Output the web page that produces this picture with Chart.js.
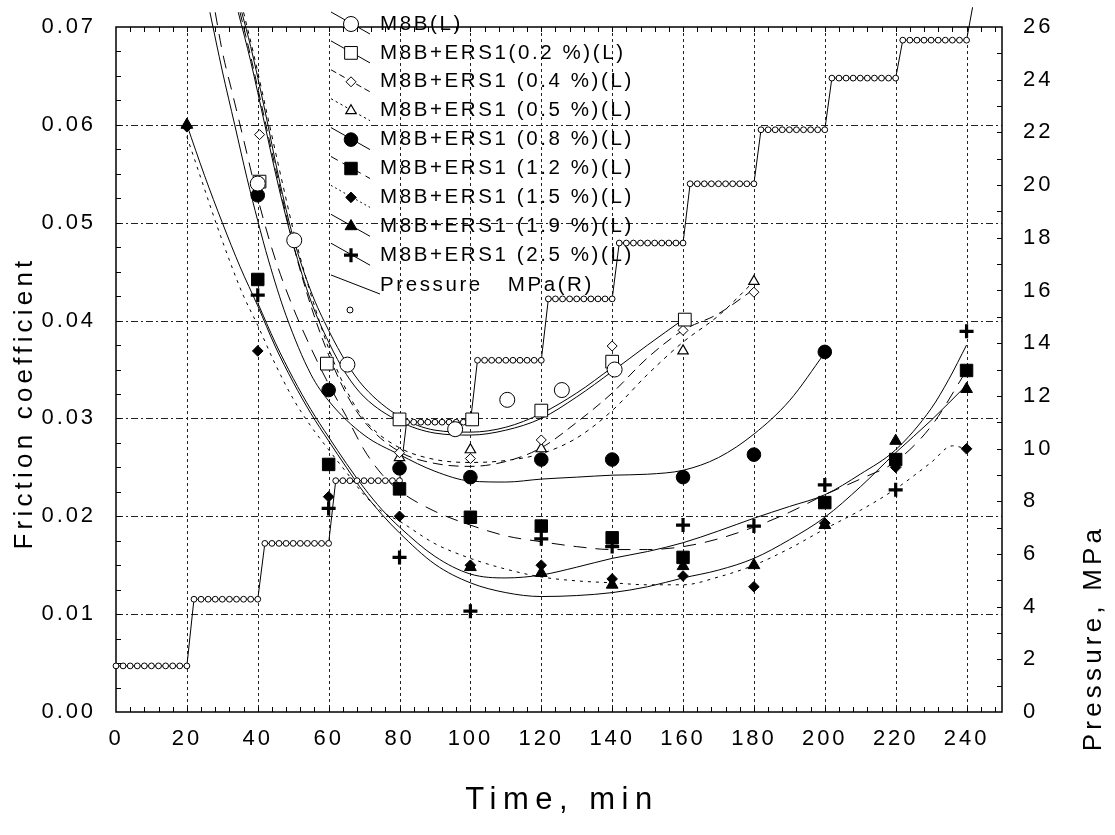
<!DOCTYPE html>
<html>
<head>
<meta charset="utf-8">
<script src="https://cdn.jsdelivr.net/npm/chart.js@4.4.1/dist/chart.umd.min.js"></script>
<style>
  html, body { margin: 0; padding: 0; background: #fff; }
  #wrap { width: 1115px; height: 835px; position: relative; }
</style>
</head>
<body>
<div id="wrap"><canvas id="chart"></canvas></div>
<script>
// measured points [time, friction]
const m8bMarks  = [[40,0.054],[50.3,0.0482],[65.3,0.0355],[95.7,0.0289],[110.4,0.0319],[125.8,0.0329],[140.7,0.035]];
const ers02Marks = [[40.5,0.0542],[59.5,0.0356],[80,0.0299],[100.5,0.0299],[120,0.0308],[140,0.0358],[160.5,0.0401]];
const ers04Marks = [[40.5,0.059],[80,0.0265],[100,0.0259],[120,0.0278],[140,0.0374],[160,0.039],[180,0.0429]];
const ers05Marks = [[80,0.026],[100,0.0268],[120,0.0269],[140,0.0358],[160,0.0369],[180,0.044]];
const ers08Marks = [[40,0.0528],[60,0.0329],[80,0.0249],[100,0.024],[120,0.0258],[140,0.0258],[160,0.024],[180,0.0263],[200,0.0368]];
const ers12Marks = [[40,0.0442],[60,0.0253],[80,0.0228],[100,0.0199],[120,0.019],[140,0.0178],[160,0.0158],[200,0.0214],[220,0.0258],[240,0.0349]];
const ers15Marks = [[20,0.0598],[40,0.0369],[60,0.022],[80,0.020],[100,0.015],[120,0.015],[140,0.0136],[160,0.0139],[180,0.0128],[200,0.0193],[220,0.025],[240,0.0269]];
const ers19Marks = [[20,0.060],[100,0.0148],[120,0.0142],[140,0.013],[160,0.0149],[180,0.015],[200,0.0191],[220,0.0277],[240,0.033]];
const ers25Marks = [[40,0.0426],[60,0.0208],[80,0.0158],[100,0.0103],[120,0.0177],[140,0.0169],[160,0.0191],[180,0.019],[200,0.0232],[220,0.0227],[240,0.0389]];

// fitted curves
const m8bFit  = [[35.5,0.0715],[38,0.068],[42,0.0615],[46,0.0545],[50,0.0485],[55,0.043],[60,0.039],[65,0.0357],[70,0.0332],[80,0.0302],[90,0.0288],[100,0.0286],[110,0.0291],[120,0.0305],[130,0.0326],[140,0.0352]];
const ers02Fit = [[34.5,0.0715],[38,0.0665],[42,0.060],[46,0.0535],[50,0.0478],[55,0.042],[60,0.0378],[65,0.0345],[70,0.0322],[80,0.0297],[90,0.0285],[100,0.0283],[110,0.0288],[120,0.030],[130,0.0322],[140,0.0348],[150,0.0375],[160,0.0401]];
const ers04Fit = [[35,0.0715],[38,0.067],[42,0.0605],[46,0.054],[50,0.0478],[55,0.0415],[60,0.0365],[65,0.0325],[70,0.0297],[80,0.0266],[90,0.0254],[100,0.0251],[110,0.0256],[120,0.027],[130,0.0296],[140,0.0326],[150,0.0362],[160,0.039],[170,0.0407],[180,0.0432]];
const ers05Fit = [[36,0.0715],[39,0.067],[43,0.0605],[47,0.054],[51,0.0478],[56,0.0415],[61,0.0362],[66,0.0322],[71,0.0295],[80,0.027],[90,0.0258],[100,0.0255],[110,0.0257],[120,0.0264],[130,0.028],[140,0.0308],[150,0.0345],[160,0.0378],[170,0.0405],[180,0.044]];
const ers08Fit = [[26.5,0.0715],[30,0.0655],[33.5,0.060],[37,0.0545],[40,0.0502],[43,0.0462],[48,0.0405],[55,0.0345],[60,0.0318],[70,0.0283],[80,0.0263],[90,0.0246],[100,0.0236],[110,0.0235],[120,0.0238],[130,0.024],[140,0.0242],[150,0.0243],[160,0.0247],[170,0.026],[180,0.0284],[190,0.0318],[200,0.0367]];
const ers12Fit = [[28,0.0715],[30,0.0675],[33,0.063],[36,0.0585],[40,0.0525],[45,0.0462],[50,0.0413],[55,0.0372],[60,0.0335],[65,0.0302],[70,0.0268],[75,0.0243],[80,0.0226],[90,0.0205],[100,0.0191],[110,0.018],[120,0.0174],[130,0.0169],[140,0.0166],[150,0.0166],[160,0.0169],[170,0.0177],[180,0.0189],[190,0.0204],[200,0.0222],[210,0.0238],[220,0.0256],[230,0.0292],[240,0.0349]];
const ers15Fit = [[20,0.0588],[24,0.0545],[28,0.0502],[33,0.0452],[36,0.0425],[40,0.0395],[45,0.0355],[50,0.032],[55,0.0292],[60,0.0268],[65,0.0245],[70,0.0222],[75,0.0205],[80,0.0195],[90,0.0172],[100,0.0157],[110,0.0146],[120,0.0138],[130,0.0134],[140,0.0132],[150,0.013],[160,0.013],[170,0.0138],[180,0.015],[190,0.0167],[200,0.0187],[210,0.0206],[220,0.0228],[230,0.0255],[236,0.0272],[240,0.0269]];
const ers19Fit = [[20,0.060],[25,0.0548],[30,0.050],[35,0.0455],[40,0.0415],[45,0.0373],[50,0.0337],[55,0.0305],[60,0.0277],[65,0.025],[70,0.0224],[75,0.0202],[80,0.0183],[90,0.0151],[100,0.0132],[110,0.0122],[120,0.0118],[130,0.0119],[140,0.0122],[150,0.0128],[160,0.0137],[170,0.0145],[180,0.0157],[190,0.0176],[200,0.0199],[210,0.023],[220,0.0265],[230,0.0298],[240,0.0334]];
const ers25Fit = [[40,0.0418],[45,0.0377],[50,0.0341],[55,0.0309],[60,0.0281],[65,0.0254],[70,0.0229],[75,0.0207],[80,0.0189],[90,0.0159],[100,0.0141],[110,0.0137],[120,0.014],[130,0.0148],[140,0.0157],[150,0.0164],[160,0.0173],[170,0.0185],[180,0.0198],[190,0.021],[200,0.0222],[210,0.0243],[220,0.0268],[230,0.031],[235,0.034],[240,0.0375]];

// pressure steps (right axis)
const pressureTime = [
  0,2,4,6,8,10,12,14,16,18,20,
  22,24,26,28,30,32,34,36,38,40,
  42,44,46,48,50,52,54,56,58,60,
  62,64,66,68,70,72,74,76,78,80,
  82,84,86,88,90,92,94,96,98,100,
  102,104,106,108,110,112,114,116,118,120,
  122,124,126,128,130,132,134,136,138,140,
  142,144,146,148,150,152,154,156,158,160,
  162,164,166,168,170,172,174,176,178,180,
  182,184,186,188,190,192,194,196,198,200,
  202,204,206,208,210,212,214,216,218,220,
  222,224,226,228,230,232,234,236,238,240,
  241.7
];
const pressureMPa = [
  1.75,1.75,1.75,1.75,1.75,1.75,1.75,1.75,1.75,1.75,1.75,
  4.28,4.28,4.28,4.28,4.28,4.28,4.28,4.28,4.28,4.28,
  6.4,6.4,6.4,6.4,6.4,6.4,6.4,6.4,6.4,6.4,
  8.78,8.78,8.78,8.78,8.78,8.78,8.78,8.78,8.78,8.78,
  11.0,11.0,11.0,11.0,11.0,11.0,11.0,11.0,11.0,11.0,
  13.35,13.35,13.35,13.35,13.35,13.35,13.35,13.35,13.35,13.35,
  15.68,15.68,15.68,15.68,15.68,15.68,15.68,15.68,15.68,15.68,
  17.8,17.8,17.8,17.8,17.8,17.8,17.8,17.8,17.8,17.8,
  20.05,20.05,20.05,20.05,20.05,20.05,20.05,20.05,20.05,20.05,
  22.1,22.1,22.1,22.1,22.1,22.1,22.1,22.1,22.1,22.1,
  24.06,24.06,24.06,24.06,24.06,24.06,24.06,24.06,24.06,24.06,
  25.5,25.5,25.5,25.5,25.5,25.5,25.5,25.5,25.5,25.5,
  26.75
];

const FONT = '"Liberation Sans", Arial, sans-serif';

const SERIES = [
    { label: 'M8B(L)',              marks: m8bMarks,  fit: m8bFit,  style: 'circle',  r: 7.5, fill: '#fff', bw: 1,   dash: [] },
    { label: 'M8B+ERS1(0.2 %)(L)',  marks: ers02Marks, fit: ers02Fit, style: 'rect',    r: 9,   fill: '#fff', bw: 1,   dash: [] },
    { label: 'M8B+ERS1 (0.4 %)(L)', marks: ers04Marks, fit: ers04Fit, style: 'rectRot', r: 5,   fill: '#fff', bw: 1,   dash: [10, 6] },
    { label: 'M8B+ERS1 (0.5 %)(L)', marks: ers05Marks, fit: ers05Fit, style: 'triangle', r: 6,  fill: '#fff', bw: 1.2, dash: [4, 5] },
    { label: 'M8B+ERS1 (0.8 %)(L)', marks: ers08Marks, fit: ers08Fit, style: 'circle',  r: 6.8, fill: '#000', bw: 1,   dash: [] },
    { label: 'M8B+ERS1 (1.2 %)(L)', marks: ers12Marks, fit: ers12Fit, style: 'rect',    r: 8.8, fill: '#000', bw: 1,   dash: [13, 9] },
    { label: 'M8B+ERS1 (1.5 %)(L)', marks: ers15Marks, fit: ers15Fit, style: 'rectRot', r: 5.3, fill: '#000', bw: 1,   dash: [3, 5] },
    { label: 'M8B+ERS1 (1.9 %)(L)', marks: ers19Marks, fit: ers19Fit, style: 'triangle', r: 6.8, fill: '#000', bw: 1,   dash: [] },
    { label: 'M8B+ERS1 (2.5 %)(L)', marks: ers25Marks, fit: ers25Fit, style: 'cross',   r: 7,   fill: '#000', bw: 3.2, dash: [] },
];

const toXY = arr => arr.map(p => ({ x: p[0], y: p[1] }));

const datasets = [];
SERIES.forEach(s => {
    datasets.push({
        label: s.label,
        data: toXY(s.marks),
        showLine: false,
        pointStyle: s.style,
        pointRadius: s.r,
        pointHoverRadius: s.r,
        pointBackgroundColor: s.fill,
        pointBorderColor: '#000',
        pointBorderWidth: s.bw,
        yAxisID: 'y',
        clip: false,
        order: 0,
    });
    datasets.push({
        label: s.label + ' fit',
        data: toXY(s.fit),
        showLine: true,
        pointRadius: 0,
        borderColor: '#000',
        borderWidth: 1,
        borderDash: s.dash,
        cubicInterpolationMode: 'monotone',
        yAxisID: 'y',
        clip: false,
        order: 2,
    });
});
datasets.push({
    label: 'Pressure   MPa(R)',
    data: pressureTime.map((t, i) => ({ x: t, y: pressureMPa[i] })),
    showLine: true,
    borderColor: '#000',
    borderWidth: 1,
    tension: 0,
    pointStyle: 'circle',
    pointRadius: c => (c.raw && c.raw.y > 26 ? 0 : 2.9),
    pointBackgroundColor: '#fff',
    pointBorderColor: '#000',
    pointBorderWidth: 1,
    yAxisID: 'y2',
    clip: false,
    order: 1,
});

// grid, inward ticks and frame
const framePlugin = {
    id: 'frame',
    beforeUpdate(chart) { chart.ctx.letterSpacing = '2.9px'; },
    beforeDraw(chart) { chart.ctx.letterSpacing = '2.9px'; },
    beforeDatasetsDraw(chart) {
        const { ctx, chartArea: a, scales: { x, y, y2 } } = chart;
        const seg = (x1, y1, x2, y2_) => { ctx.beginPath(); ctx.moveTo(x1, y1); ctx.lineTo(x2, y2_); ctx.stroke(); };
        ctx.save();
        ctx.strokeStyle = '#222';
        ctx.lineWidth = 1;
        ctx.setLineDash([3, 3]);
        x.ticks.forEach(t => {
            if (t.value <= 0 || t.value >= 250) return;
            const px = Math.round(x.getPixelForValue(t.value)) + 0.5;
            seg(px, a.top, px, a.bottom);
        });
        ctx.setLineDash([7, 3, 2, 3]);
        y.ticks.forEach(t => {
            if (t.value <= 0.0001 || t.value >= 0.0699) return;
            const py = Math.round(y.getPixelForValue(t.value)) + 0.5;
            seg(a.left, py, a.right, py);
        });
        ctx.setLineDash([]);
        ctx.strokeStyle = '#000';
        for (let v = 4; v < 250; v += 4) {
            const px = Math.round(x.getPixelForValue(v)) + 0.5;
            seg(px, a.bottom, px, a.bottom - 5);
            seg(px, a.top, px, a.top + 5);
        }
        for (let v = 0.0025; v < 0.07; v += 0.0025) {
            const py = Math.round(y.getPixelForValue(v)) + 0.5;
            seg(a.left, py, a.left + 5, py);
        }
        for (let v = 1; v < 26; v += 1) {
            const py = Math.round(y2.getPixelForValue(v)) + 0.5;
            seg(a.right, py, a.right - 5, py);
        }
        ctx.lineWidth = 1.5;
        ctx.strokeRect(a.left, a.top, a.right - a.left, a.bottom - a.top);
        ctx.restore();
    },
    afterDatasetsDraw(chart) {
        const ctx = chart.ctx;
        const seg = (x1, y1, x2, y2_) => { ctx.beginPath(); ctx.moveTo(x1, y1); ctx.lineTo(x2, y2_); ctx.stroke(); };
        ctx.save();
        ctx.font = `20.5px ${FONT}`;
        ctx.letterSpacing = '2.6px';
        ctx.textBaseline = 'middle';
        ctx.textAlign = 'left';
        ctx.strokeStyle = '#000';
        ctx.lineWidth = 1;
        SERIES.forEach((s, i) => {
            const yy = 24 + i * 28.9;
            ctx.setLineDash(s.dash.length ? [s.dash[0] * 0.6, s.dash[1] * 0.6] : []);
            ctx.lineWidth = 1;
            seg(331, yy - 12, 370, yy + 10);
            ctx.setLineDash([]);
            ctx.fillStyle = s.fill;
            ctx.lineWidth = s.bw;
            Chart.helpers.drawPoint(ctx, { pointStyle: s.style, radius: s.r, rotation: 0, borderWidth: s.bw }, 351, yy);
            ctx.fillStyle = '#000';
            ctx.fillText(s.label, 380, yy);
        });
        // pressure entry
        const py = 285;
        ctx.lineWidth = 1;
        seg(331, py - 10, 380, py + 9);
        ctx.fillText('Pressure   MPa(R)', 380, py);
        ctx.fillStyle = '#fff';
        Chart.helpers.drawPoint(ctx, { pointStyle: 'circle', radius: 3, rotation: 0, borderWidth: 1 }, 350, 310);

        // axis titles
        ctx.fillStyle = '#000';
        ctx.textAlign = 'center';
        ctx.font = `31px ${FONT}`;
        ctx.letterSpacing = '6.5px';
        ctx.fillText('Time, min', 562, 800);
        ctx.font = `26px ${FONT}`;
        ctx.letterSpacing = '4.2px';
        ctx.save();
        ctx.translate(25, 403);
        ctx.rotate(-Math.PI / 2);
        ctx.fillText('Friction coefficient', 0, 0);
        ctx.restore();
        ctx.save();
        ctx.translate(1094, 638);
        ctx.rotate(-Math.PI / 2);
        ctx.fillText('Pressure, MPa', 0, 0);
        ctx.restore();
        ctx.restore();
    }
};

new Chart(document.getElementById('chart'), {
    type: 'scatter',
    data: { datasets },
    options: {
        responsive: true,
        maintainAspectRatio: false,
        animation: false,
        events: [],
        layout: { padding: { top: 27, left: 0, right: 0, bottom: 0 } },
        plugins: { legend: { display: false }, tooltip: { enabled: false } },
        scales: {
            x: {
                type: 'linear', min: 0, max: 250,
                grid: { display: false }, border: { display: false },
                ticks: { stepSize: 20, includeBounds: false, color: '#000', padding: 6, maxRotation: 0, autoSkip: false, font: { family: FONT, size: 22 } },
                afterFit: s => { s.height = 123; },
            },
            y: {
                type: 'linear', position: 'left', min: 0, max: 0.07,
                grid: { display: false }, border: { display: false },
                ticks: { stepSize: 0.01, color: '#000', padding: 12, font: { family: FONT, size: 22 }, callback: v => v.toFixed(2) },
                afterFit: s => { s.width = 116; },
            },
            y2: {
                type: 'linear', position: 'right', min: 0, max: 26,
                grid: { display: false }, border: { display: false },
                ticks: { stepSize: 2, color: '#000', padding: 13, font: { family: FONT, size: 22 } },
                afterFit: s => { s.width = 113; },
            },
        },
    },
    plugins: [framePlugin],
});
</script>
</body>
</html>
